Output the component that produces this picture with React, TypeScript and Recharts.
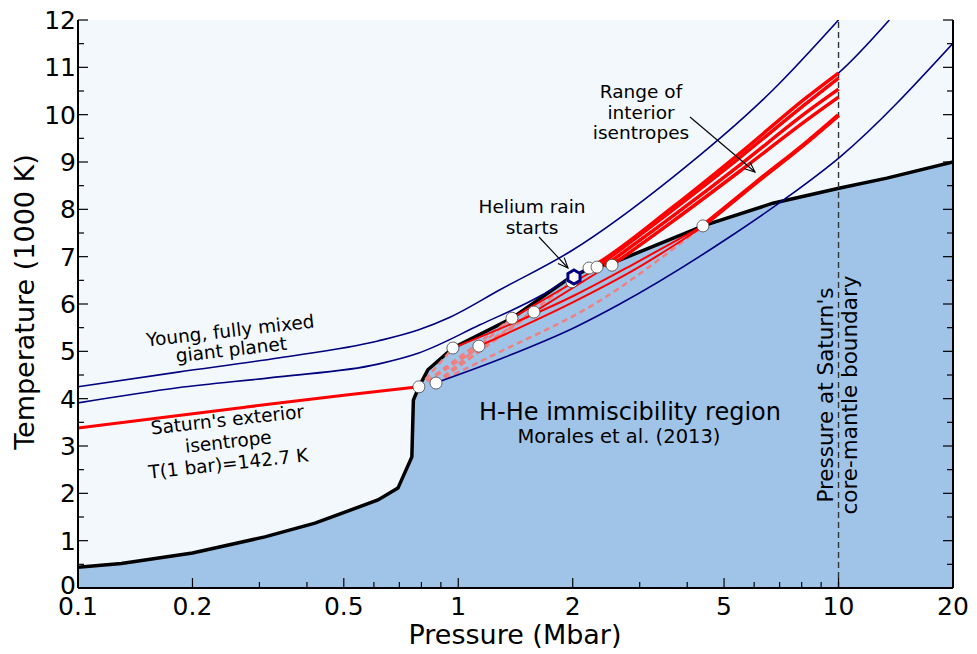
import React from "react";
import { ComposedChart, XAxis, YAxis, Line, Area, Scatter, ReferenceLine, CartesianGrid } from "recharts";

const FONT = "DejaVu Sans, Verdana, sans-serif";

// axis ticks
const pressureTicks = [0.1, 0.2, 0.3, 0.4, 0.5, 0.6, 0.7, 0.8, 0.9, 1, 2, 3, 4, 5, 6, 7, 8, 9, 10, 20];
const pressureLabels = [0.1, 0.2, 0.5, 1, 2, 5, 10, 20];
const tempTicks = [0, 0.5, 1, 1.5, 2, 2.5, 3, 3.5, 4, 4.5, 5, 5.5, 6, 6.5, 7, 7.5, 8, 8.5, 9, 9.5, 10, 10.5, 11, 11.5, 12];
const tempLabels = [0, 1, 2, 3, 4, 5, 6, 7, 8, 9, 10, 11, 12];

// H-He immiscibility boundary (Morales et al. 2013)
const immiscibility = [
  { p: 0.1, t: 0.44 }, { p: 0.13, t: 0.52 }, { p: 0.2, t: 0.74 }, { p: 0.31, t: 1.08 },
  { p: 0.42, t: 1.37 }, { p: 0.615, t: 1.86 }, { p: 0.694, t: 2.11 }, { p: 0.755, t: 2.77 },
  { p: 0.762, t: 3.97 }, { p: 0.788, t: 4.25 }, { p: 0.832, t: 4.61 }, { p: 0.968, t: 5.07 },
  { p: 1.384, t: 5.7 }, { p: 1.93, t: 6.51 }, { p: 2.22, t: 6.76 }, { p: 2.55, t: 6.87 },
  { p: 4.14, t: 7.56 }, { p: 4.4, t: 7.65 }, { p: 6.72, t: 8.13 }, { p: 10.09, t: 8.45 },
  { p: 13.4, t: 8.66 }, { p: 20, t: 9.0 },
];

// young, fully mixed giant planet isentropes
const youngA = [
  { p: 0.1, t: 4.25 }, { p: 0.183, t: 4.56 }, { p: 0.336, t: 4.86 }, { p: 0.615, t: 5.22 },
  { p: 0.784, t: 5.45 }, { p: 0.951, t: 5.72 }, { p: 1.287, t: 6.3 }, { p: 2.0, t: 7.14 },
  { p: 3.67, t: 8.68 }, { p: 6.72, t: 10.52 }, { p: 10, t: 12.0 },
];
const youngB = [
  { p: 0.1, t: 3.91 }, { p: 0.183, t: 4.23 }, { p: 0.336, t: 4.46 }, { p: 0.615, t: 4.73 },
  { p: 0.784, t: 4.96 }, { p: 1.14, t: 5.56 }, { p: 1.66, t: 6.19 }, { p: 1.93, t: 6.51 },
  { p: 2.4, t: 6.93 }, { p: 3.67, t: 8.05 }, { p: 5.51, t: 9.19 }, { p: 8.26, t: 10.37 },
  { p: 10, t: 10.88 }, { p: 13.6, t: 12.0 },
];
const youngC = [
  { p: 0.869, t: 4.33 }, { p: 1.3, t: 4.85 }, { p: 2.03, t: 5.51 }, { p: 2.66, t: 6.0 },
  { p: 5.18, t: 7.42 }, { p: 7.23, t: 8.22 }, { p: 10.1, t: 9.11 }, { p: 20, t: 11.51 },
];

// Saturn
const exterior = [{ p: 0.1, t: 3.38 }, { p: 0.275, t: 3.82 }, { p: 0.5, t: 4.07 }, { p: 0.788, t: 4.25 }];
const interior1 = [{ p: 2.22, t: 6.76 }, { p: 2.4, t: 6.93 }, { p: 3.67, t: 8.05 }, { p: 5.51, t: 9.19 }, { p: 8.26, t: 10.37 }, { p: 10, t: 10.88 }];
const interior2 = [{ p: 2.317, t: 6.78 }, { p: 3.67, t: 7.99 }, { p: 5.51, t: 9.1 }, { p: 8.26, t: 10.25 }, { p: 10, t: 10.77 }];
const interior3 = [{ p: 2.42, t: 6.8 }, { p: 3.67, t: 7.86 }, { p: 5.51, t: 8.94 }, { p: 8.26, t: 10.06 }, { p: 10, t: 10.54 }];
const interior4 = [{ p: 2.537, t: 6.82 }, { p: 3.67, t: 7.75 }, { p: 5.51, t: 8.81 }, { p: 8.26, t: 9.89 }, { p: 10, t: 10.37 }];
const interior5 = [{ p: 4.4, t: 7.65 }, { p: 6.1, t: 8.58 }, { p: 8.26, t: 9.42 }, { p: 10, t: 9.99 }];

// paths inside the immiscibility region
const rainA = [{ p: 0.968, t: 5.07 }, { p: 2.03, t: 6.19 }, { p: 2.9, t: 6.85 }, { p: 4.4, t: 7.65 }];
const rainB = [{ p: 1.133, t: 5.11 }, { p: 2.03, t: 6.06 }, { p: 2.9, t: 6.72 }, { p: 4.3, t: 7.58 }];
const rainC = [{ p: 1.384, t: 5.7 }, { p: 2.22, t: 6.66 }];
const rainD = [{ p: 1.581, t: 5.83 }, { p: 2.317, t: 6.66 }];

const dashed1 = [{ p: 0.788, t: 4.25 }, { p: 0.968, t: 5.07 }];
const dashed2 = [{ p: 0.788, t: 4.25 }, { p: 1.133, t: 5.11 }];
const dashed3 = [{ p: 0.874, t: 4.33 }, { p: 1.384, t: 5.7 }];
const dashed4 = [{ p: 0.874, t: 4.33 }, { p: 1.581, t: 5.83 }];
const dashed5 = [{ p: 0.874, t: 4.33 }, { p: 1.99, t: 6.47 }];
const dashed6 = [{ p: 0.874, t: 4.33 }, { p: 1.287, t: 4.99 }, { p: 2.26, t: 5.98 }, { p: 4.4, t: 7.65 }];
const dashed7 = [{ p: 0.788, t: 4.25 }, { p: 1.384, t: 5.7 }];
const dashed8 = [{ p: 0.788, t: 4.25 }, { p: 1.581, t: 5.83 }];

const transitions = [
  { p: 0.788, t: 4.25 }, { p: 0.874, t: 4.33 }, { p: 0.968, t: 5.07 }, { p: 1.133, t: 5.11 },
  { p: 1.384, t: 5.7 }, { p: 1.581, t: 5.83 }, { p: 1.99, t: 6.47 }, { p: 2.207, t: 6.76 },
  { p: 2.317, t: 6.78 }, { p: 2.537, t: 6.82 }, { p: 4.4, t: 7.65 },
];
const rainStart = [{ p: 2.015, t: 6.57 }];

const BottomTick = ({ x, y, payload }: any) => {
  const major = pressureLabels.includes(payload.value);
  return (
    <g>
      <line x1={x} x2={x} y1={y} y2={y - (major ? 10 : 6)} stroke="#000" strokeWidth={1.2} />
      {major && (
        <text x={x} y={y + 27} textAnchor="middle" fontSize={25} fontFamily={FONT} fill="#000">
          {String(payload.value)}
        </text>
      )}
    </g>
  );
};

const TopTick = ({ x, y, payload }: any) => {
  const major = pressureLabels.includes(payload.value);
  return <line x1={x} x2={x} y1={y} y2={y + (major ? 10 : 6)} stroke="#000" strokeWidth={1.2} />;
};

const LeftTick = ({ x, y, payload }: any) => {
  const major = tempLabels.includes(payload.value);
  // the "0" sits just above the "0.1" of the pressure axis
  const dy = payload.value === 0 ? 6 : 9;
  return (
    <g>
      <line x1={x} x2={x + (major ? 10 : 6)} y1={y} y2={y} stroke="#000" strokeWidth={1.2} />
      {major && (
        <text x={x - 2} y={y + dy} textAnchor="end" fontSize={25} fontFamily={FONT} fill="#000">
          {String(payload.value)}
        </text>
      )}
    </g>
  );
};

const RightTick = ({ x, y, payload }: any) => {
  const major = tempLabels.includes(payload.value);
  return <line x1={x} x2={x - (major ? 10 : 6)} y1={y} y2={y} stroke="#000" strokeWidth={1.2} />;
};

const WhiteDot = (props: any) => (
  <circle cx={props.cx} cy={props.cy} r={6} fill="#fff" stroke="#444" strokeWidth={0.8} />
);

const Hexagon = (props: any) => {
  const r = 7;
  const pts = [0, 1, 2, 3, 4, 5]
    .map((i) => {
      const a = (Math.PI / 3) * i - Math.PI / 2;
      return `${props.cx + r * Math.cos(a)},${props.cy + r * Math.sin(a)}`;
    })
    .join(" ");
  return <polygon points={pts} fill="#fff" stroke="#000080" strokeWidth={3} />;
};

const Arrow = ({ x1, y1, x2, y2 }: any) => {
  const ang = Math.atan2(y2 - y1, x2 - x1);
  const len = 11;
  const spread = 0.4;
  const a1 = ang + Math.PI - spread;
  const a2 = ang + Math.PI + spread;
  return (
    <g stroke="#000" strokeWidth={1.1} fill="none">
      <line x1={x1} y1={y1} x2={x2} y2={y2} />
      <polyline
        points={`${x2 + len * Math.cos(a1)},${y2 + len * Math.sin(a1)} ${x2},${y2} ${x2 + len * Math.cos(a2)},${y2 + len * Math.sin(a2)}`}
      />
    </g>
  );
};

const Annotations = () => (
  <svg width={977} height={654} style={{ position: "absolute", left: 0, top: 0, pointerEvents: "none" }} fontFamily={FONT}>
    <text x={34} y={302} transform="rotate(-90 34 302)" textAnchor="middle" fontSize={27}>Temperature (1000 K)</text>
    <text x={515} y={644} textAnchor="middle" fontSize={27}>Pressure (Mbar)</text>

    <text x={231} y={337} transform="rotate(-6.5 231 337)" textAnchor="middle" fontSize={18.5}>Young, fully mixed</text>
    <text x={232} y={356} transform="rotate(-6.5 232 356)" textAnchor="middle" fontSize={18.5}>giant planet</text>

    <text x={228} y={426} transform="rotate(-6.3 228 426)" textAnchor="middle" fontSize={18.5}>Saturn's exterior</text>
    <text x={229} y={448} transform="rotate(-6.3 229 448)" textAnchor="middle" fontSize={18.5}>isentrope</text>
    <text x={229} y={470} transform="rotate(-6.3 229 470)" textAnchor="middle" fontSize={18.5}>T(1 bar)=142.7 K</text>

    <text x={630} y={420} textAnchor="middle" fontSize={24}>H-He immiscibility region</text>
    <text x={619} y={443} textAnchor="middle" fontSize={19.5}>Morales et al. (2013)</text>

    <text x={532} y={213} textAnchor="middle" fontSize={18.5}>Helium rain</text>
    <text x={532} y={234} textAnchor="middle" fontSize={18.5}>starts</text>
    <Arrow x1={539} y1={237} x2={568} y2={268} />

    <text x={641} y={98} textAnchor="middle" fontSize={18.5}>Range of</text>
    <text x={641} y={119} textAnchor="middle" fontSize={18.5}>interior</text>
    <text x={641} y={139} textAnchor="middle" fontSize={18.5}>isentropes</text>
    <Arrow x1={690} y1={117} x2={755} y2={172} />

    <text x={833} y={395} transform="rotate(-90 833 395)" textAnchor="middle" fontSize={21.5}>Pressure at Saturn's</text>
    <text x={857} y={395} transform="rotate(-90 857 395)" textAnchor="middle" fontSize={21.5}>core-mantle boundary</text>
  </svg>
);

export default function App() {
  const line = (data: any[], stroke: string, width: number, key: string, dash?: string) => (
    <Line
      key={key}
      data={data}
      dataKey="t"
      type="monotone"
      stroke={stroke}
      strokeWidth={width}
      strokeDasharray={dash}
      dot={false}
      activeDot={false}
      isAnimationActive={false}
    />
  );

  return (
    <div style={{ position: "absolute", left: 0, top: 0, width: 977, height: 654, background: "#fff" }}>
      <ComposedChart width={977} height={654} margin={{ top: 20, right: 0, bottom: 0, left: 0 }}>
        <CartesianGrid horizontal={false} vertical={false} fill="#f3f8fd" />
        <XAxis
          dataKey="p"
          type="number"
          scale="log"
          domain={[0.1, 20]}
          allowDataOverflow
          ticks={pressureTicks}
          interval={0}
          height={66}
          tickSize={0}
          tickMargin={0}
          tickLine={false}
          axisLine={{ stroke: "#000", strokeWidth: 2 }}
          tick={<BottomTick />}
        />
        <XAxis
          xAxisId="top"
          orientation="top"
          dataKey="p"
          type="number"
          scale="log"
          domain={[0.1, 20]}
          allowDataOverflow
          ticks={pressureTicks}
          interval={0}
          height={0}
          tickSize={0}
          tickMargin={0}
          tickLine={false}
          axisLine={{ stroke: "#000", strokeWidth: 2 }}
          tick={<TopTick />}
        />
        <YAxis
          dataKey="t"
          type="number"
          domain={[0, 12]}
          allowDataOverflow
          ticks={tempTicks}
          interval={0}
          width={78}
          tickSize={0}
          tickMargin={0}
          tickLine={false}
          axisLine={{ stroke: "#000", strokeWidth: 2 }}
          tick={<LeftTick />}
        />
        <YAxis
          yAxisId="right"
          orientation="right"
          dataKey="t"
          type="number"
          domain={[0, 12]}
          allowDataOverflow
          ticks={tempTicks}
          interval={0}
          width={24}
          tickSize={0}
          tickMargin={0}
          tickLine={false}
          axisLine={{ stroke: "#000", strokeWidth: 2 }}
          tick={<RightTick />}
        />

        <Area
          data={immiscibility}
          dataKey="t"
          type="linear"
          stroke="#000"
          strokeWidth={3.5}
          fill="#a0c4e8"
          fillOpacity={1}
          dot={false}
          activeDot={false}
          isAnimationActive={false}
        />

        <ReferenceLine x={10} stroke="#333" strokeWidth={1.4} strokeDasharray="6 4" />

        {line(dashed1, "#f08080", 2.5, "d1", "6 4")}
        {line(dashed2, "#f08080", 2.5, "d2", "6 4")}
        {line(dashed3, "#f08080", 2.5, "d3", "6 4")}
        {line(dashed4, "#f08080", 2.5, "d4", "6 4")}
        {line(dashed5, "#f08080", 2.5, "d5", "6 4")}
        {line(dashed6, "#f08080", 2.5, "d6", "6 4")}
        {line(dashed7, "#f08080", 2.5, "d7", "6 4")}
        {line(dashed8, "#f08080", 2.5, "d8", "6 4")}

        {line(youngA, "#000080", 1.6, "ya")}
        {line(youngB, "#000080", 1.6, "yb")}
        {line(youngC, "#000080", 1.6, "yc")}

        {line(rainA, "#ff0000", 2, "ra")}
        {line(rainB, "#ff0000", 2, "rb")}
        {line(rainC, "#ff0000", 2, "rc")}
        {line(rainD, "#ff0000", 2, "rd")}

        {line(exterior, "#ff0000", 3, "ext")}
        {line(interior1, "#ff0000", 3.5, "i1")}
        {line(interior2, "#ff0000", 3.5, "i2")}
        {line(interior3, "#ff0000", 3.5, "i3")}
        {line(interior4, "#ff0000", 3.5, "i4")}
        {line(interior5, "#ff0000", 4.5, "i5")}

        <Scatter data={transitions} dataKey="t" shape={<WhiteDot />} isAnimationActive={false} />
        <Scatter data={rainStart} dataKey="t" shape={<Hexagon />} isAnimationActive={false} />
      </ComposedChart>
      <Annotations />
    </div>
  );
}
